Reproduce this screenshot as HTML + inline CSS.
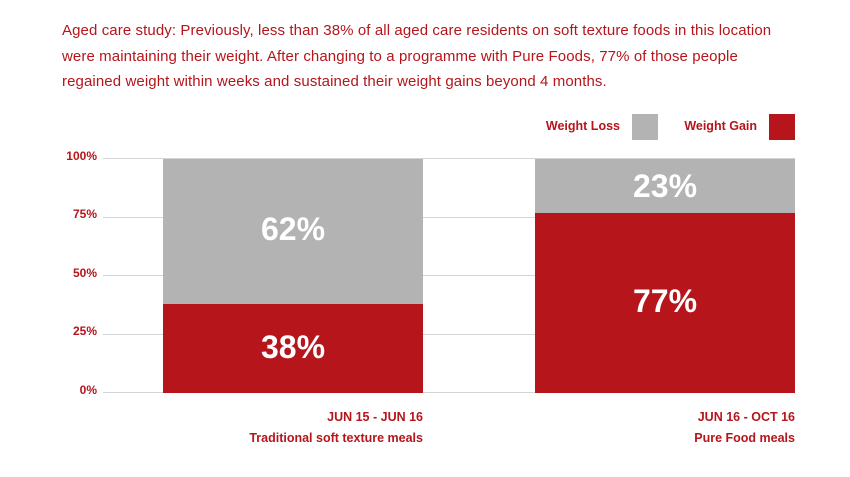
<!DOCTYPE html>
<html><head><style>
body{margin:0;width:850px;height:477px;background:#fff;font-family:"Liberation Sans",sans-serif;position:relative;overflow:hidden}
.a{position:absolute}
.t{left:62px;top:18px;color:#b5151b;font-size:15px;line-height:25.5px;white-space:nowrap;letter-spacing:0.1px}
.y{color:#b5151b;font-size:12px;font-weight:bold;width:37px;text-align:right;left:60px}
.g{left:103px;width:692px;height:1px;background:#d5d5d5}
.v{color:#fff;font-weight:bold;font-size:32px;text-align:center;width:260px}
.l{color:#b5151b;font-size:12.5px;font-weight:bold;text-align:right}
</style></head><body>
<div class="a t">Aged care study: Previously, less than 38% of all aged care residents on soft texture foods in this location<br>were maintaining their weight. After changing to a programme with Pure Foods, 77% of those people<br>regained weight within weeks and sustained their weight gains beyond 4 months.</div>
<div class="a l" style="right:230px;top:119px">Weight Loss</div>
<div class="a" style="left:632px;top:114px;width:26px;height:26px;background:#b3b3b3"></div>
<div class="a l" style="right:93px;top:119px">Weight Gain</div>
<div class="a" style="left:769px;top:114px;width:26px;height:26px;background:#b5151b"></div>
<div class="a g" style="top:158px"></div>
<div class="a g" style="top:217px"></div>
<div class="a g" style="top:275px"></div>
<div class="a g" style="top:334px"></div>
<div class="a g" style="top:392px"></div>
<div class="a y" style="top:149px">100%</div>
<div class="a y" style="top:207px">75%</div>
<div class="a y" style="top:266px">50%</div>
<div class="a y" style="top:324px">25%</div>
<div class="a y" style="top:383px">0%</div>
<div class="a" style="left:163px;top:159px;width:260px;height:145px;background:#b3b3b3"></div>
<div class="a" style="left:163px;top:304px;width:260px;height:89px;background:#b5151b"></div>
<div class="a" style="left:535px;top:159px;width:260px;height:54px;background:#b3b3b3"></div>
<div class="a" style="left:535px;top:213px;width:260px;height:180px;background:#b5151b"></div>
<div class="a v" style="left:163px;top:211px">62%</div>
<div class="a v" style="left:163px;top:329px">38%</div>
<div class="a v" style="left:535px;top:168px">23%</div>
<div class="a v" style="left:535px;top:283px">77%</div>
<div class="a l" style="right:427px;top:407px;line-height:21px">JUN 15 - JUN 16<br>Traditional soft texture meals</div>
<div class="a l" style="right:55px;top:407px;line-height:21px">JUN 16 - OCT 16<br>Pure Food meals</div>
</body></html>
